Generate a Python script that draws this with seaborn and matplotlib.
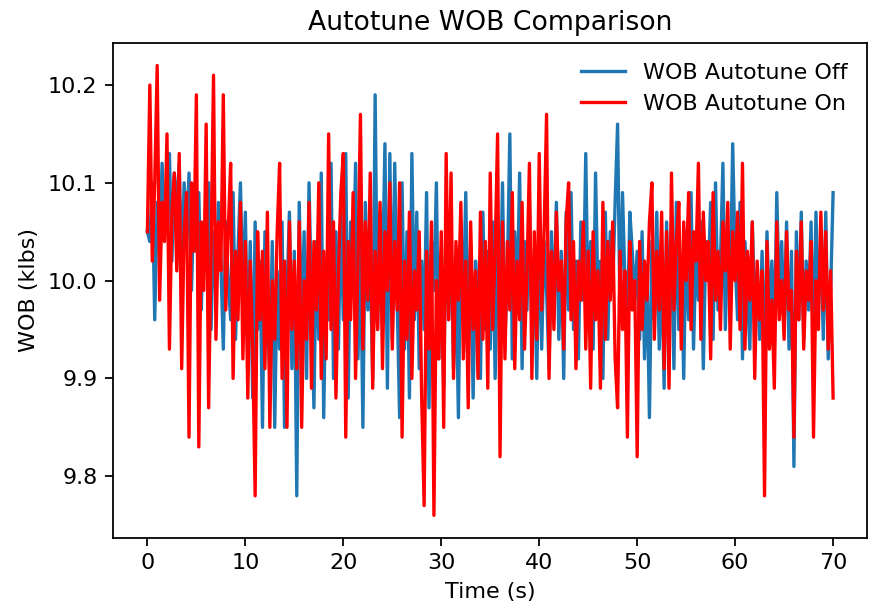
"""Autotune WOB comparison: WOB with autotune off vs on."""

import numpy as np
import pandas as pd
import seaborn as sns
import matplotlib.pyplot as plt

# WOB (klbs), one row per 5 s, sampled every 0.25 s
WOB_OFF = [
    10.05, 10.04, 10.10, 9.96, 10.08, 10.03, 10.12, 10.05, 10.09, 10.13, 10.02, 10.11, 10.07, 10.12, 10.00, 10.10, 10.04, 10.11, 9.99, 10.08,
    10.03, 10.09, 9.97, 10.06, 10.01, 10.10, 9.95, 10.05, 9.98, 10.08, 10.02, 9.93, 10.06, 10.00, 9.96, 10.09, 9.94, 10.03, 10.10, 9.98,
    10.07, 9.92, 10.04, 9.88, 10.06, 9.95, 10.02, 9.85, 10.05, 9.97, 9.90, 10.04, 9.85, 10.01, 9.93, 10.06, 9.85, 9.99, 10.07, 9.91,
    10.03, 9.78, 10.08, 9.95, 10.05, 9.90, 10.10, 9.98, 9.87, 10.04, 9.94, 10.11, 9.86, 10.02, 9.96, 10.12, 9.90, 10.05, 9.93, 10.07,
    9.96, 10.13, 9.88, 10.06, 9.99, 10.12, 9.92, 10.04, 9.85, 10.08, 9.97, 10.02, 9.90, 10.19, 9.95, 10.07, 10.00, 10.14, 9.89, 10.13,
    9.94, 10.12, 9.98, 9.86, 10.10, 9.93, 10.05, 9.88, 10.13, 9.96, 10.07, 9.91, 10.02, 9.95, 10.09, 9.87, 10.04, 9.99, 10.10, 9.92,
    10.03, 9.89, 10.08, 9.96, 10.05, 9.91, 10.01, 9.86, 10.06, 9.97, 10.09, 9.93, 10.04, 9.88, 10.02, 9.98, 9.90, 10.07, 9.95, 10.03,
    9.93, 10.06, 9.90, 10.03, 9.96, 10.10, 9.94, 10.01, 10.15, 9.92, 10.05, 9.98, 10.11, 9.91, 10.04, 9.97, 10.08, 9.95, 10.02, 9.90,
    10.06, 9.93, 10.04, 9.99, 9.91, 10.05, 9.96, 10.08, 9.94, 10.03, 9.90, 10.07, 9.97, 10.09, 9.95, 10.02, 9.92, 10.06, 9.98, 10.13,
    9.96, 10.04, 9.93, 10.11, 9.98, 10.02, 9.90, 10.07, 9.94, 10.05, 9.99, 10.08, 10.16, 9.96, 10.09, 10.00, 9.95, 10.07, 10.03, 9.98,
    10.03, 9.94, 10.05, 9.92, 10.01, 9.86, 10.04, 9.96, 10.07, 9.93, 10.02, 9.89, 10.06, 9.97, 10.04, 9.91, 10.08, 9.95, 10.02, 9.90,
    10.05, 9.96, 10.09, 9.93, 10.03, 9.98, 10.06, 9.91, 10.04, 10.00, 10.08, 9.94, 10.10, 9.97, 10.02, 10.12, 9.95, 10.05, 9.99, 10.14,
    10.02, 9.96, 10.08, 9.92, 10.04, 9.99, 9.93, 10.06, 9.97, 10.01, 9.94, 10.03, 9.90, 10.05, 9.96, 10.02, 9.93, 10.09, 9.98, 10.04,
    9.95, 10.06, 9.93, 10.03, 9.81, 10.05, 9.96, 10.07, 9.94, 10.02, 9.97, 10.06, 9.92, 10.07, 9.98, 10.04, 9.94, 10.07, 9.92, 9.99,
    10.09,
]

WOB_ON = [
    10.05, 10.20, 10.02, 10.10, 10.22, 9.98, 10.08, 10.04, 10.15, 9.93, 10.07, 10.11, 10.01, 10.13, 9.91, 10.05, 10.09, 9.84, 10.10, 10.03,
    10.19, 9.83, 10.06, 9.99, 10.16, 9.87, 10.03, 10.21, 9.94, 10.06, 10.01, 10.19, 9.97, 10.05, 10.12, 9.90, 10.03, 9.96, 10.08, 9.92,
    10.04, 9.88, 10.02, 9.93, 9.78, 10.05, 9.96, 10.03, 9.91, 10.07, 9.85, 10.00, 9.94, 10.05, 10.12, 9.90, 10.02, 9.85, 10.06, 9.95,
    10.02, 9.91, 10.06, 9.85, 10.00, 9.94, 10.08, 9.89, 10.04, 9.97, 10.10, 9.90, 10.03, 9.92, 10.15, 9.95, 10.06, 9.88, 10.01, 10.09,
    10.13, 9.84, 10.04, 9.96, 10.09, 9.90, 10.02, 10.17, 9.93, 10.06, 9.98, 10.11, 9.89, 10.03, 9.95, 10.08, 9.91, 10.05, 9.99, 10.10,
    9.93, 10.04, 9.97, 10.10, 9.84, 10.02, 9.94, 10.07, 9.90, 10.01, 9.97, 10.05, 9.88, 9.77, 10.03, 9.93, 10.06, 9.76, 10.00, 9.92,
    10.05, 9.85, 10.13, 9.96, 10.11, 9.90, 10.04, 9.98, 10.08, 9.92, 10.02, 9.87, 10.06, 9.95, 10.01, 9.90, 10.07, 9.94, 10.04, 9.89,
    10.11, 9.95, 10.03, 10.15, 9.82, 10.06, 9.92, 10.04, 9.97, 10.09, 9.91, 10.02, 9.96, 10.08, 9.93, 10.01, 10.12, 9.90, 10.05, 9.94,
    10.13, 9.97, 10.05, 10.17, 9.90, 10.03, 9.95, 10.07, 9.99, 10.02, 9.93, 10.06, 10.10, 9.96, 10.04, 9.91, 10.02, 9.98, 10.06, 9.93,
    10.03, 9.89, 10.05, 9.96, 10.01, 9.89, 10.08, 9.94, 10.04, 9.98, 10.06, 9.92, 9.87, 10.03, 9.95, 10.01, 9.84, 10.04, 9.97, 10.00,
    9.82, 10.04, 9.95, 10.02, 9.98, 10.06, 10.10, 9.94, 10.03, 9.97, 10.07, 9.91, 10.05, 9.89, 10.11, 9.97, 10.04, 10.08, 9.93, 10.06,
    10.00, 10.09, 9.95, 10.05, 10.02, 10.12, 9.94, 10.07, 10.00, 10.04, 9.92, 10.09, 9.98, 10.03, 9.95, 10.06, 10.01, 10.08, 9.93, 10.05,
    10.00, 10.07, 9.95, 10.12, 9.93, 10.03, 9.98, 10.06, 9.90, 10.02, 9.96, 10.01, 9.78, 10.04, 9.93, 9.98, 9.89, 10.06, 9.96, 10.00,
    9.94, 10.05, 9.97, 9.99, 9.84, 10.03, 9.96, 10.06, 9.93, 10.01, 9.98, 10.04, 9.84, 10.00, 9.95, 10.07, 9.97, 10.05, 9.93, 10.01,
    9.88,
]

T_END = 70
DPI = 160

off = pd.DataFrame({"Time": np.linspace(0, T_END, len(WOB_OFF)), "WOB": WOB_OFF})
on = pd.DataFrame({"Time": np.linspace(0, T_END, len(WOB_ON)), "WOB": WOB_ON})

fig, ax = plt.subplots(figsize=(870 / DPI, 614 / DPI), dpi=DPI)
sns.lineplot(data=off, x="Time", y="WOB", color="#1f77b4", linewidth=1.5, label="WOB Autotune Off", ax=ax)
sns.lineplot(data=on, x="Time", y="WOB", color="red", linewidth=1.5, label="WOB Autotune On", ax=ax)

ax.set_title("Autotune WOB Comparison", fontsize=12)
ax.set_xlabel("Time (s)", fontsize=10)
ax.set_ylabel("WOB (klbs)", fontsize=10)
ax.set_yticks([9.8, 9.9, 10.0, 10.1, 10.2])
ax.tick_params(axis="both", labelsize=10)
ax.legend(loc="upper right", frameon=False, fontsize=10)
fig.subplots_adjust(left=0.130, right=0.997, top=0.930, bottom=0.124)
plt.savefig("out.png", dpi=DPI)
